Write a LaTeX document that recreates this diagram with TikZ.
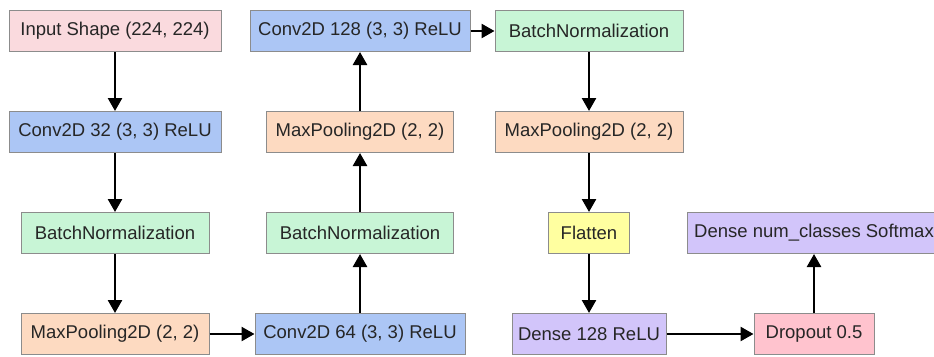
\documentclass[tikz,border=0pt]{standalone}
\usepackage{fontspec}
\setmainfont{Liberation Sans}
\usetikzlibrary{positioning,arrows.meta}

\definecolor{inpink}{RGB}{250,218,222}
\definecolor{convblue}{RGB}{172,198,245}
\definecolor{bngreen}{RGB}{200,245,214}
\definecolor{poolpeach}{RGB}{253,218,193}
\definecolor{flatyellow}{RGB}{255,255,160}
\definecolor{densepurple}{RGB}{210,197,250}
\definecolor{droppink}{RGB}{255,195,206}
\definecolor{boxline}{RGB}{140,140,140}

\begin{document}
\begin{tikzpicture}[x=1pt,y=-1pt,->,>={Triangle[length=13pt,width=14pt]},line width=2.5pt,node distance=59pt,layer node/.style={draw=boxline,line width=1pt,minimum height=41pt,inner xsep=3pt,text=black!85,font=\fontsize{18.5}{22}\selectfont}]
            \useasboundingbox (0,0) rectangle (934,356);

            \node[layer node,fill=inpink,minimum width=212pt] (input) at (115,31) {Input Shape (224, 224)};
            \node[layer node,fill=convblue,minimum width=212pt] (conv1) [below=of input] {Conv2D 32 (3, 3) ReLU};
            \node[layer node,fill=bngreen,minimum width=188pt] (bn1) [below=of conv1] {BatchNormalization};
            \node[layer node,fill=poolpeach,minimum width=188pt] (pool1) [below=of bn1] {MaxPooling2D (2, 2)};

            \node[layer node,fill=convblue,minimum width=210pt] (conv2) at (360,334) {Conv2D 64 (3, 3) ReLU};
            \node[layer node,fill=bngreen,minimum width=187pt] (bn2) [above=of conv2] {BatchNormalization};
            \node[layer node,fill=poolpeach,minimum width=187pt] (pool2) [above=of bn2] {MaxPooling2D (2, 2)};
            \node[layer node,fill=convblue,minimum width=220pt] (conv3) [above=of pool2] {Conv2D 128 (3, 3) ReLU};

            \node[layer node,fill=bngreen,minimum width=188pt] (bn3) at (589,31) {BatchNormalization};
            \node[layer node,fill=poolpeach,minimum width=188pt] (pool3) [below=of bn3] {MaxPooling2D (2, 2)};
            \node[layer node,fill=flatyellow,minimum width=81pt] (flat) [below=of pool3] {Flatten};
            \node[layer node,fill=densepurple,minimum width=154pt] (dense1) [below=of flat] {Dense 128 ReLU};

            \node[layer node,fill=droppink,minimum width=120pt] (drop) at (814,334) {Dropout 0.5};
            \node[layer node,fill=densepurple,minimum width=254pt] (out) [above=of drop] {Dense num\_classes Softmax};

            \path
                (input) edge (conv1)
                (conv1) edge (bn1)
                (bn1) edge (pool1)
                (pool1) edge (conv2)

                (conv2) edge (bn2)
                (bn2) edge (pool2)
                (pool2) edge (conv3)
                (conv3) edge (bn3)

                (bn3) edge (pool3)
                (pool3) edge (flat)
                (flat) edge (dense1)
                (dense1) edge (drop)

                (drop) edge (out)
                ;
        \end{tikzpicture}
\end{document}
